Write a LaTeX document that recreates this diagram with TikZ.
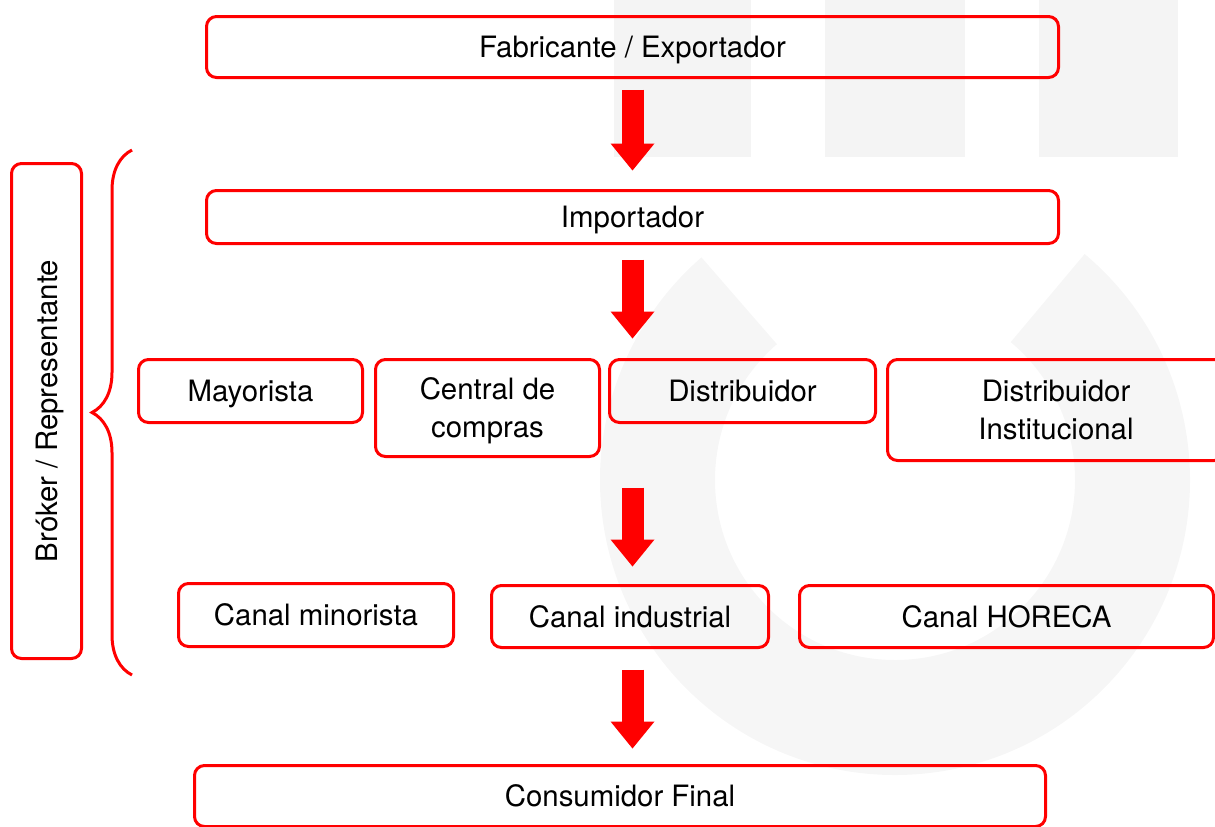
\documentclass[tikz,border=0pt]{standalone}
\usepackage{fontspec}
\setmainfont{TeX Gyre Heros}
\usetikzlibrary{arrows.meta, decorations.pathreplacing}
\definecolor{rojo}{RGB}{255,0,0}
\definecolor{marca}{RGB}{244,244,244}
\definecolor{marcab}{RGB}{246,246,246}

\begin{document}
\begin{tikzpicture}[x=0.5pt, y=-0.5pt,
    caja/.style={draw=rojo, line width=1.5pt, rounded corners=5pt, align=center,
        font=\fontsize{14.7}{19}\selectfont, inner sep=1pt, text depth=0pt},
    flecha/.style={draw=rojo, line width=11pt,
        -{Triangle[width=22pt, length=13.5pt, line width=0pt]}}]
    \useasboundingbox (0,0) rectangle (1215,826);

    % Watermark
    \fill[marca] (614,0) rectangle (751,157);
    \fill[marca] (825,0) rectangle (965,157);
    \fill[marca] (1039,0) rectangle (1178,157);
    \fill[marcab] ([shift={(-50:295)}]895,480) arc[start angle=-50, end angle=229, radius=295]
        -- ([shift={(229:180)}]895,480) arc[start angle=229, end angle=-50, radius=180] -- cycle;

    % Draw nodes
    \node[caja, minimum width=426pt, minimum height=30.5pt] (fab) at (632.5,47) {Fabricante / Exportador};
    \node[caja, minimum width=426pt, minimum height=26.5pt] (imp) at (632.5,217) {Importador};
    \node[caja, minimum width=112pt, minimum height=31.5pt] (may) at (250.5,391) {Mayorista};
    \node[caja, minimum width=112pt, minimum height=48.5pt] (cen) at (487.5,408) {Central de\\compras};
    \node[caja, minimum width=133pt, minimum height=31.5pt] (dis) at (742.5,391) {Distribuidor};
    \node[caja, minimum width=168.5pt, minimum height=50.5pt] (din) at (1056,410) {Distribuidor\\Institucional};
    \node[caja, minimum width=137.5pt, minimum height=31.5pt] (min) at (316,615) {Canal minorista};
    \node[caja, minimum width=138.5pt, minimum height=31pt] (ind) at (630,616.5) {Canal industrial};
    \node[caja, minimum width=207pt, minimum height=31pt] (hor) at (1006.5,616.5) {Canal HORECA};
    \node[caja, minimum width=425.5pt, minimum height=30.5pt] (con) at (620,796) {Consumidor Final};
    \node[caja, rotate=90, minimum width=247.5pt, minimum height=35pt] (bro) at (46.5,411) {Bróker / Representante};

    % Brace
    \coordinate (llaveA) at (132,675);
    \coordinate (llaveB) at (132,150);
    \draw[rojo, line width=1.5pt, decorate, decoration={brace, amplitude=20pt}] (llaveA) -- (llaveB);

    % Draw connections
    \draw[flecha, shorten <=5.25pt, shorten >=9.25pt] (fab.south) -- (imp.north);
    \draw[flecha, shorten <=7.25pt, shorten >=9.75pt] (imp.south) -- (imp.south |- dis.north);
    \draw[flecha, shorten <=14.75pt, shorten >=8.75pt] (imp.south |- cen.south) -- (imp.south |- ind.north);
    \draw[flecha, shorten <=10.25pt, shorten >=7.75pt] (imp.south |- ind.south) -- (imp.south |- con.north);
\end{tikzpicture}
\end{document}
